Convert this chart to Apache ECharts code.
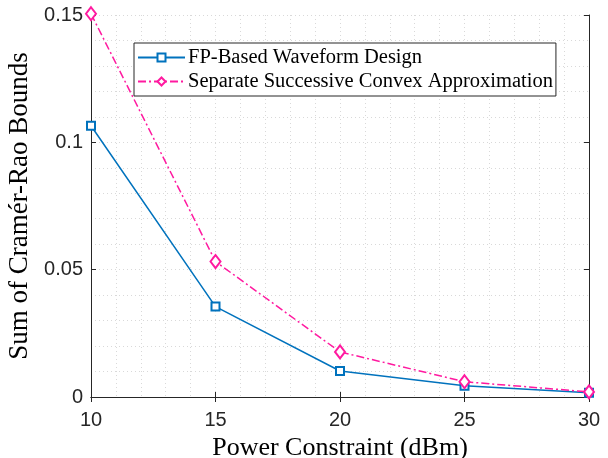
<!DOCTYPE html>
<html><head><meta charset="utf-8">
<script src="https://cdn.jsdelivr.net/npm/echarts@6/dist/echarts.min.js"></script>
<style>html,body{margin:0;padding:0;background:#fff}#c{width:608px;height:458px}</style>
</head><body><div id="c"></div>
<script>
const powers = [10, 15, 20, 25, 30];
const fpBased = [0.1065, 0.0355, 0.0102, 0.0044, 0.0017];
const separateSCA = [0.1505, 0.0532, 0.0177, 0.0060, 0.0020];
const seriesNames = ['FP-Based Waveform Design', 'Separate Successive Convex Approximation'];
const xTitle = 'Power Constraint (dBm)';
const yTitle = 'Sum of Cramér-Rao Bounds';

const serif = 'Liberation Serif';
const sans = 'Liberation Sans';
const chart = echarts.init(document.getElementById('c'));
const gridLine = {show: true, lineStyle: {color: '#d9d9d9', type: [1, 3], width: 1}};
const axisLineStyle = {show: true, lineStyle: {color: '#262626', width: 1}};
chart.setOption({
  animation: false,
  backgroundColor: '#fff',
  grid: {left: 91, top: 15, right: 19, bottom: 61, containLabel: false, outerBoundsMode: 'none'},
  legend: {
    left: 134, top: 43, orient: 'vertical',
    backgroundColor: '#fff', borderColor: '#262626', borderWidth: 1,
    padding: [4, 3, 4, 3], itemGap: 3, itemWidth: 47, itemHeight: 10,
    textStyle: {fontFamily: serif, fontSize: 20.5, color: '#000', padding: [0, 0, 0, -2]},
    data: seriesNames
  },
  xAxis: [{
    type: 'value', min: 10, max: 30, interval: 5,
    name: xTitle, nameLocation: 'middle', nameGap: 36,
    nameTextStyle: {fontFamily: serif, fontSize: 26, color: '#000'},
    axisLine: axisLineStyle,
    axisTick: {show: true, inside: true, length: 5, lineStyle: {color: '#262626'}},
    minorTick: {show: false, splitNumber: 5},
    axisLabel: {fontFamily: sans, fontSize: 20, color: '#262626', margin: 13},
    splitLine: gridLine,
    minorSplitLine: {show: true, lineStyle: {color: '#d9d9d9', type: [1, 3], width: 1}}
  }, {
    type: 'value', min: 10, max: 30, interval: 5, position: 'top',
    axisLine: axisLineStyle,
    axisTick: {show: true, inside: true, length: 5, lineStyle: {color: '#262626'}},
    axisLabel: {show: false}, splitLine: {show: false}
  }],
  yAxis: [{
    type: 'value', min: 0, max: 0.15, interval: 0.05,
    name: yTitle, nameLocation: 'middle', nameGap: 57,
    nameTextStyle: {fontFamily: serif, fontSize: 27, color: '#000'},
    axisLine: axisLineStyle,
    axisTick: {show: true, inside: true, length: 5, lineStyle: {color: '#262626'}},
    minorTick: {show: false, splitNumber: 5},
    axisLabel: {fontFamily: sans, fontSize: 20, color: '#262626', margin: 8,
      formatter: v => v === 0 ? '0' : String(+v.toFixed(2))},
    splitLine: gridLine,
    minorSplitLine: {show: true, lineStyle: {color: '#d9d9d9', type: [1, 3], width: 1}}
  }, {
    type: 'value', min: 0, max: 0.15, interval: 0.05, position: 'right',
    axisLine: axisLineStyle,
    axisTick: {show: true, inside: true, length: 5, lineStyle: {color: '#262626'}},
    axisLabel: {show: false}, splitLine: {show: false}
  }],
  series: [{
    name: seriesNames[0], type: 'line', clip: false,
    data: powers.map((p, i) => [p, fpBased[i]]),
    symbol: 'emptyRect', symbolSize: 8,
    itemStyle: {color: '#0072BD', borderWidth: 1.3},
    lineStyle: {color: '#0072BD', width: 1.5}
  }, {
    name: seriesNames[1], type: 'line', clip: false,
    data: powers.map((p, i) => [p, separateSCA[i]]),
    symbol: 'emptyDiamond', symbolSize: [10, 13],
    itemStyle: {color: '#FF1AA0', borderWidth: 1.3},
    lineStyle: {color: '#FF1AA0', width: 1.5, type: [8, 3, 2, 3]}
  }]
});
</script></body></html>
